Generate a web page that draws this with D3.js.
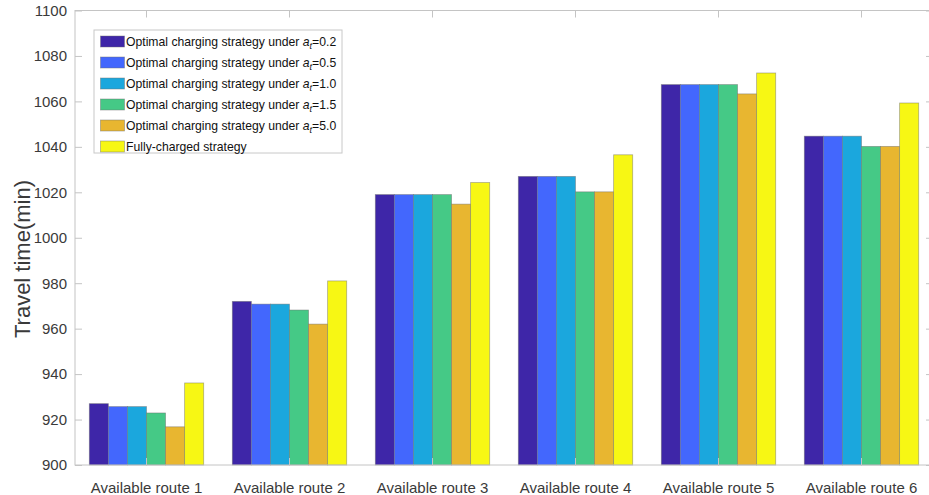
<!DOCTYPE html>
<html>
<head>
<meta charset="utf-8">
<script src="https://cdn.jsdelivr.net/npm/d3@7"></script>
<style>
  body { margin: 0; background: #fff; }
  text { font-family: "Liberation Sans", Arial, sans-serif; }
</style>
</head>
<body>
<svg id="canvas" width="929" height="495"></svg>
<script>
var routes = ['Available route 1', 'Available route 2', 'Available route 3',
  'Available route 4', 'Available route 5', 'Available route 6']
var seriesNames = ['0.2', '0.5', '1.0', '1.5', '5.0', 'full']
var colors = ['#3e26a8', '#4367fd', '#1ba7dd', '#45c986', '#e8b630', '#f7f714']
var at02 = [927.0, 972.0, 1019.0, 1027.0, 1067.4, 1044.7]
var at05 = [925.7, 970.8, 1019.0, 1027.0, 1067.4, 1044.7]
var at10 = [925.7, 970.8, 1019.0, 1027.0, 1067.4, 1044.7]
var at15 = [922.9, 968.2, 1019.0, 1020.2, 1067.4, 1040.2]
var at50 = [916.8, 962.0, 1014.8, 1020.2, 1063.3, 1040.2]
var fullCharged = [936.1, 981.0, 1024.3, 1036.5, 1072.5, 1059.3]
var yTicks = [900, 920, 940, 960, 980, 1000, 1020, 1040, 1060, 1080, 1100]

var series = [at02, at05, at10, at15, at50, fullCharged]

var plotLeft = 75
var plotRight = 933
var plotTop = 10.5
var plotBottom = 465

var svg = d3.select('#canvas')

var x = d3.scaleBand().domain(routes).range([plotLeft, plotRight]).paddingInner(0.2).paddingOuter(0.1)
var xs = d3.scaleBand().domain(seriesNames).range([0, x.bandwidth()])
var y = d3.scaleLinear().domain([900, 1100]).range([plotBottom, plotTop])

// bars
routes.forEach(function (r, i) {
  var g = svg.append('g').attr('transform', 'translate(' + x(r) + ',0)')
  series.forEach(function (s, j) {
    g.append('rect')
      .attr('x', xs(seriesNames[j]))
      .attr('y', y(s[i]))
      .attr('width', xs.bandwidth())
      .attr('height', y(900) - y(s[i]))
      .attr('fill', colors[j])
      .attr('stroke', 'rgba(110,110,110,0.55)')
      .attr('stroke-width', 0.8)
  })
})

var axisColor = '#c4c4c4'
var textColor = '#3a3a3a'

// box
svg.append('rect')
  .attr('x', plotLeft).attr('y', plotTop)
  .attr('width', plotRight - plotLeft).attr('height', plotBottom - plotTop)
  .attr('fill', 'none').attr('stroke', axisColor).attr('stroke-width', 1)

// y axis (ticks inward)
var yAxis = svg.append('g').attr('transform', 'translate(' + plotLeft + ',0)')
  .call(d3.axisLeft(y).tickValues(yTicks).tickSize(-7).tickPadding(8).tickFormat(d3.format('d')))
yAxis.select('.domain').remove()
yAxis.selectAll('line').attr('stroke', axisColor)
yAxis.selectAll('text').attr('fill', textColor).style('font-size', '15px')

var yAxisR = svg.append('g').attr('transform', 'translate(' + plotRight + ',0)')
  .call(d3.axisRight(y).tickValues(yTicks).tickSize(-7).tickFormat(''))
yAxisR.select('.domain').remove()
yAxisR.selectAll('line').attr('stroke', axisColor)

// x axis
var xAxis = svg.append('g').attr('transform', 'translate(0,' + plotBottom + ')')
  .call(d3.axisBottom(x).tickSize(-7).tickPadding(17))
xAxis.select('.domain').remove()
xAxis.selectAll('line').attr('stroke', axisColor)
xAxis.selectAll('text').attr('fill', textColor).style('font-size', '15px')

var xAxisT = svg.append('g').attr('transform', 'translate(0,' + plotTop + ')')
  .call(d3.axisTop(x).tickSize(-7).tickFormat(''))
xAxisT.select('.domain').remove()
xAxisT.selectAll('line').attr('stroke', axisColor)

// y label
svg.append('text')
  .attr('transform', 'translate(30,259) rotate(-90)')
  .attr('text-anchor', 'middle')
  .attr('fill', textColor)
  .style('font-size', '22px')
  .text('Travel time(min)')

// legend
var legend = svg.append('g')
legend.append('rect')
  .attr('x', 94).attr('y', 30).attr('width', 248).attr('height', 123)
  .attr('fill', '#fff').attr('stroke', '#c8c8c8').attr('stroke-width', 1)

seriesNames.forEach(function (name, j) {
  var cy = 41.5 + j * 21
  legend.append('rect')
    .attr('x', 100.5).attr('y', cy - 5.5).attr('width', 24).attr('height', 11)
    .attr('fill', colors[j]).attr('stroke', 'rgba(110,110,110,0.55)').attr('stroke-width', 0.8)
  var t = legend.append('text')
    .attr('x', 126).attr('y', cy + 4)
    .attr('fill', '#111')
    .style('font-size', '12.2px')
  if (name === 'full') {
    t.text('Fully-charged strategy')
  } else {
    t.append('tspan').text('Optimal charging strategy under ')
    t.append('tspan').style('font-style', 'italic').text('a')
    t.append('tspan').style('font-style', 'italic').style('font-size', '9px').attr('dy', 3).text('t')
    t.append('tspan').attr('dy', -3).text('=' + name)
  }
})
</script>
</body>
</html>
